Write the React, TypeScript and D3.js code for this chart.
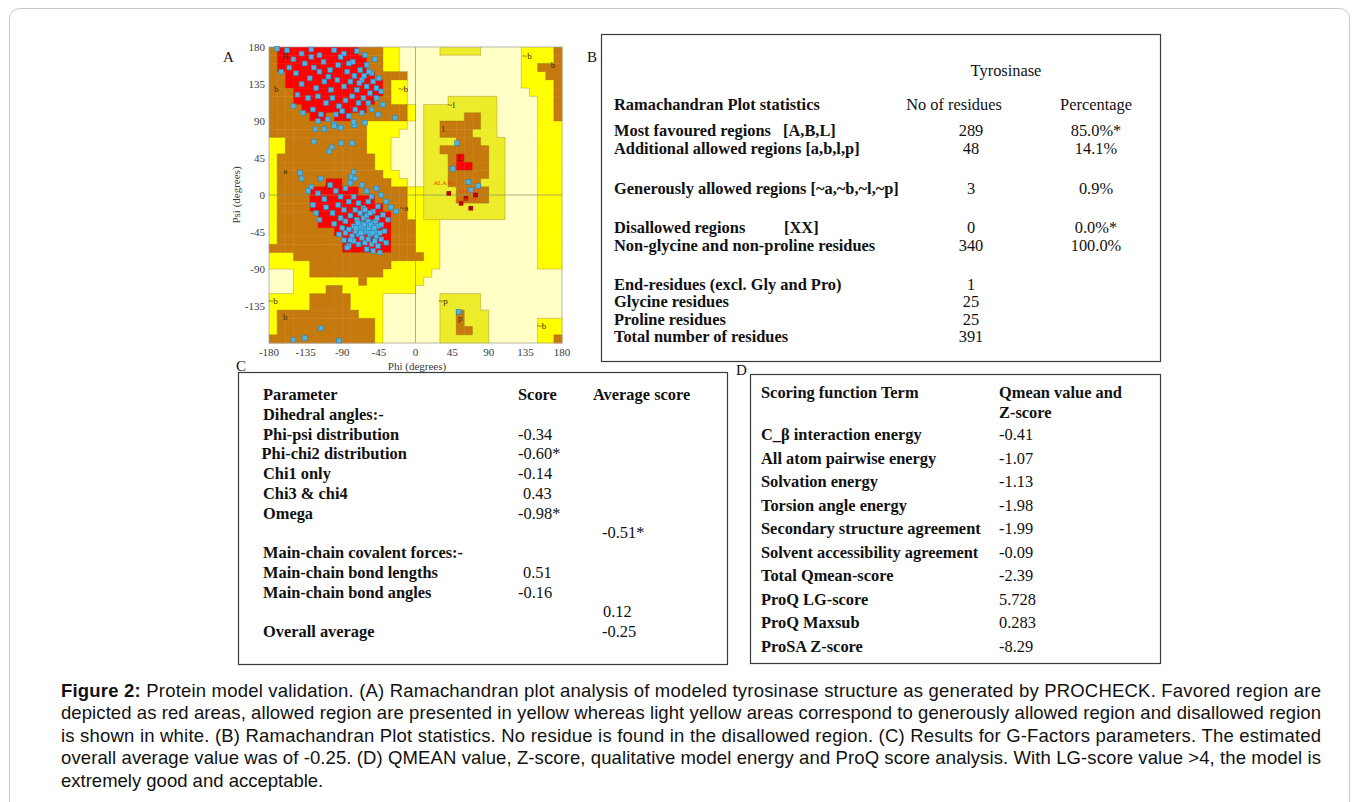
import React from 'react';
import * as d3 from 'd3';

// ---------- Ramachandran region map (10° cells, rows psi 180 -> -180, cols phi -180 -> 180)
// R = most favoured, B = additional allowed, Y/G = generously allowed, W = disallowed
const REGION_ROWS: string[] = [
  'BRRRRRRRRRRBBBYYWWWWWGGGGGWWWWWYYYYB',
  'BRRRRRRRRRRRBBYYWWWWWWWWWWWWWWWYYYYB',
  'BRRRRRRRRRRRBBYYWWWWWWWWWWWWWWWYYBBB',
  'BBRRRRRRRRRRRBBBBWWWWWWWWWWWWWWYYYBB',
  'BBRRRRRRRRRRRRBYYWWWWWWWWWWWWWWYYYYB',
  'BBBRRRRRRRRRRRBYYWWWWWWWWWWWWWWWYYYB',
  'BBBRRRRRRRRRRBBYYWWWWWGGGGGGWWWWWYYB',
  'BBBBRRRRRRRRBBBBBYWGGGGGGGGGWWWWWYYB',
  'BBBBBRRBRRBBBBBBBYWGGGGGBBGGWWWWWYYB',
  'BBBBBBBBBBBBYYYYYWWGGBBBBBGGWWWWWYYY',
  'BBBBBBBBBBBBYYYYWWWGGBBBBGGGWWWWWYYY',
  'YYBBBBBBBBBBYYYWWWWGGGGBBBGGGWWWWYYY',
  'YYBBBBBBBBBBYYYWWWWGGBBBBBBGGWWWWYYY',
  'YBBBBBBBBBBBBYYWWWWGGGBRBBBGGWWWWYYY',
  'YBBBBBBBBBBBBYYWWWWGGGBRRBBGGWWWWYYY',
  'YBBBBBBBBBBBBBYYWWWGGGBBBBBGGWWWWYYY',
  'YBBBBBBRRBBBBBBYYWWGGGBBBBGGGWWWWYYY',
  'YBBBBRRRRRRBBBBBBYYGGGGBBBBGGWWWWYYY',
  'YBBBBRRRRRRRRBBBBYYGGGGBBBBGGWWWWYYY',
  'YBBBBRRRRRRRRRBBBYYGGGGGGGGGGWWWWYYY',
  'YBBBBBRRRRRRRRRBBYYGGGGGGGGGGWWWWYYY',
  'YBBBBBRRRRRRRRRBBBYYYWWWWWWWWWWWWYYY',
  'YBBBBBBBRRRRRRRBBBYYYWWWWWWWWWWWWYYY',
  'YBBBBBBBBRRRRRRBBBYYYWWWWWWWWWWWWYYY',
  'BBBBBBBBBRRRRRRBBBYYYWWWWWWWWWWWWYYY',
  'YYYBBBBBBBBBBBBBBBBYYWWWWWWWWWWWWYYY',
  'YYYYYBBBBBBBBBBYYYYYYWWWWWWWWWWWWYYY',
  'WWWYYBBBBBBBBBYYYYYYWWWWWWWWWWWWWWWW',
  'WWWYYYYYYYYBYYYYYYYWWWWWWWWWWWWWWWWW',
  'WWWYYYYBBYYYYYYYYYWWWWWWWWWWWWWWWWWW',
  'YYYYYBBBBBYYYYWWWWWWWGGGGGWWWWWWWWWW',
  'YYYYYBBBBBYYYYWWWWWWWGGGGGWWWWWWWWWW',
  'YBBBBBBBBBBYYYWWWWWWWGGBGGGWWWWWWWWW',
  'YBBBBBBBBBBBBYWWWWWWWGGBGGGWWWWWWYYY',
  'YBBBBBBBBBBBBYWWWWWWWGGBBGGWWWWWWYYY',
  'BBBBBBBBBBBBBYWWWWWWWGGGGGGWWWWWWYYB',
];

const REGION_COLORS: Record<string, string> = {
  R: '#fe0000',
  B: '#c6790c',
  Y: '#ffff00',
  G: '#ecec28',
  W: '#ffffc6',
};

const PHI_TICKS = [-180, -135, -90, -45, 0, 45, 90, 135, 180];
const PSI_TICKS = [180, 135, 90, 45, 0, -45, -90, -135];

// residues (phi, psi)
const BETA_RESIDUES: [number, number][] = [
  [-170, 178], [-158, 176], [-150, 165], [-140, 172], [-128, 177], [-118, 170], [-100, 176], [-88, 172], [-72, 175], [-62, 170],
  [-165, 150], [-155, 155], [-147, 148], [-136, 160], [-125, 155], [-113, 162], [-105, 152], [-95, 158], [-84, 150], [-77, 162],
  [-68, 152], [-60, 158], [-54, 148], [-50, 165], [-140, 135], [-130, 142], [-122, 130], [-112, 138], [-104, 128], [-96, 140],
  [-88, 132], [-80, 138], [-72, 128], [-66, 140], [-60, 132], [-56, 124], [-52, 138], [-48, 130], [-45, 142], [-58, 112],
  [-64, 118], [-70, 112], [-78, 120], [-86, 115], [-94, 108], [-102, 118], [-110, 112], [-120, 120], [-132, 118], [-145, 122],
  [-150, 108], [-138, 100], [-126, 104], [-116, 98], [-108, 92], [-98, 98], [-90, 102], [-82, 96], [-74, 104], [-66, 100],
  [-54, 104], [-48, 118], [-42, 126], [-40, 110], [-46, 98], [-62, 88], [-75, 85], [-92, 82], [-100, 86], [-112, 80],
  [-120, 90], [-57, 150], [-63, 145], [-69, 136], [-75, 145], [-82, 160], [-92, 168], [-107, 144], [-118, 150], [-128, 168],
];

const BRIDGE_RESIDUES: [number, number][] = [
  [-125, 65], [-103, 58], [-91, 63], [-78, 63], [-106, 53], [-123, 80], [-100, 84], [-76, 89],
  [-142, 27], [-76, 28], [-79, 22], [-25, 94],
];

const ALPHA_RESIDUES: [number, number][] = [
  [-140, 20], [-128, 10], [-120, 2], [-112, -5], [-105, 12], [-98, 5], [-92, -2], [-86, 8], [-80, 15], [-74, 20],
  [-66, 12], [-60, 5], [-54, -2], [-48, 8], [-42, 0], [-36, -8], [-30, -15], [-24, -20], [-110, -15], [-102, -22],
  [-95, -12], [-88, -18], [-82, -8], [-76, -2], [-70, -10], [-64, -16], [-58, -8], [-52, -20], [-46, -14], [-40, -24],
  [-34, -30], [-100, -35], [-92, -28], [-86, -32], [-80, -25], [-76, -38], [-72, -30], [-68, -42], [-66, -35], [-64, -28],
  [-62, -45], [-60, -38], [-58, -32], [-56, -48], [-54, -40], [-52, -34], [-50, -44], [-48, -50], [-46, -38], [-44, -46],
  [-42, -36], [-70, -48], [-74, -44], [-78, -50], [-82, -42], [-86, -46], [-90, -40], [-94, -48], [-66, -52], [-62, -58],
  [-58, -54], [-54, -60], [-50, -56], [-46, -62], [-42, -54], [-38, -44], [-36, -58], [-70, -60], [-76, -56], [-82, -62],
  [-88, -55], [-65, -40], [-63, -36], [-61, -42], [-59, -44], [-57, -40], [-55, -36], [-67, -46], [-69, -38], [-71, -34],
  [-73, -40], [-53, -46], [-51, -40], [-49, -32], [-47, -28], [-60, -25], [-56, -22], [-62, -18], [-68, -22], [-74, -18],
  [-80, -55], [-84, -64], [-60, -66], [-52, -68], [-44, -70], [-118, -30], [-126, -12], [-132, 5], [-116, 20], [-122, -22],
];

const OTHER_RESIDUES: [number, number][] = [
  [51, 63], [46, 32], [65, 16], [77, 11], [68, 6], [53, -142],
  [-150, -176], [-136, -174], [-116, -162], [-94, -177],
];

const GLY_RESIDUES: [number, number][] = [
  [41, 2], [62, -4], [68, -16], [74, 0], [56, -10],
];

const GLY_LABELS: [string, number, number][] = [
  ['ALA 90', 22, 14],
  ['ARG 52', 52, 4],
  ['ASN 77', 49, -7],
];

const REGION_LABELS: [string, number, number][] = [
  ['B', -160, 168], ['b', -171, 128], ['a', -160, 28], ['A', -109, 10],
  ['~b', -15, 128], ['~a', -14, -17], ['~b', 137, 168], ['b', 169, 157],
  ['~l', 44, 108], ['l', 34, 79], ['L', 55, 44], ['~b', -175, -130],
  ['b', -160, -150], ['~p', 34, -130], ['p', 55, -151], ['~b', 155, -160],
];

// ---------- Panel B
const B_LABELS = [
  'Most favoured regions', 'Additional allowed regions [a,b,l,p]', 'Generously allowed regions [~a,~b,~l,~p]',
  'Disallowed regions', 'Non-glycine and non-proline residues', 'End-residues (excl. Gly and Pro)',
  'Glycine residues', 'Proline residues', 'Total number of residues',
];
const B_TAGS = ['[A,B,L]', '', '', '[XX]', '', '', '', '', ''];
const B_COUNTS = ['289', '48', '3', '0', '340', '1', '25', '25', '391'];
const B_PCTS = ['85.0%*', '14.1%', '0.9%', '0.0%*', '100.0%', '', '', '', ''];
const B_ROW_Y = [131, 148.5, 189, 228, 245.5, 284.5, 302, 319.5, 337];

// ---------- Panel C
const C_LABELS = [
  'Dihedral angles:-', 'Phi-psi distribution', 'Phi-chi2 distribution', 'Chi1 only', 'Chi3 & chi4', 'Omega', '',
  'Main-chain covalent forces:-', 'Main-chain bond lengths', 'Main-chain bond angles', '', 'Overall average',
];
const C_SCORES = ['', '-0.34', '-0.60*', '-0.14', '0.43', '-0.98*', '', '', '0.51', '-0.16', '', ''];
const C_AVERAGES = ['', '', '', '', '', '', '-0.51*', '', '', '', '0.12', '-0.25'];

// ---------- Panel D
const D_LABELS = [
  'C_β interaction energy', 'All atom pairwise energy', 'Solvation energy', 'Torsion angle energy',
  'Secondary structure agreement', 'Solvent accessibility agreement', 'Total Qmean-score',
  'ProQ LG-score', 'ProQ Maxsub', 'ProSA Z-score',
];
const D_VALUES = ['-0.41', '-1.07', '-1.13', '-1.98', '-1.99', '-0.09', '-2.39', '5.728', '0.283', '-8.29'];

// ---------- Caption
const CAPTION_LINES = [
  'Protein model validation. (A) Ramachandran plot analysis of modeled tyrosinase structure as generated by PROCHECK. Favored region are',
  'depicted as red areas, allowed region are presented in yellow whereas light yellow areas correspond to generously allowed region and disallowed region',
  'is shown in white. (B) Ramachandran Plot statistics. No residue is found in the disallowed region. (C) Results for G-Factors parameters. The estimated',
  'overall average value was of -0.25. (D) QMEAN value, Z-score, qualitative model energy and ProQ score analysis. With LG-score value >4, the model is',
  'extremely good and acceptable.',
];

const SERIF = "'Liberation Serif', 'Times New Roman', serif";
const SANS = "'Liberation Sans', Arial, sans-serif";
const TABLE_FS = 16.4;

function Ramachandran() {
  const x = d3.scaleLinear().domain([-180, 180]).range([269, 562]);
  const y = d3.scaleLinear().domain([180, -180]).range([47, 343]);
  const cells: JSX.Element[] = [];
  const edges: JSX.Element[] = [];
  REGION_ROWS.forEach((row, r) => {
    for (let c = 0; c < 36; c++) {
      const t = row[c];
      const x0 = x(-180 + 10 * c), x1 = x(-170 + 10 * c);
      const y0 = y(180 - 10 * r), y1 = y(170 - 10 * r);
      cells.push(
        <rect key={`c${r}-${c}`} x={x0} y={y0} width={x1 - x0 + 0.4} height={y1 - y0 + 0.4} fill={REGION_COLORS[t]} />
      );
      if (c < 35 && row[c + 1] !== t) {
        edges.push(<line key={`v${r}-${c}`} x1={x1} x2={x1} y1={y0} y2={y1} />);
      }
      if (r < 35 && REGION_ROWS[r + 1][c] !== t) {
        edges.push(<line key={`h${r}-${c}`} x1={x0} x2={x1} y1={y1} y2={y1} />);
      }
    }
  });
  const pt = (p: [number, number], i: number, k: string) => (
    <rect key={k + i} x={x(p[0]) - 2.4} y={y(p[1]) - 2.4} width={4.8} height={4.8}
      fill="#4fb4e4" stroke="#2a86b8" strokeWidth={0.6} />
  );
  return (
    <g>
      {cells}
      <g stroke="#8a6410" strokeWidth={0.6} strokeOpacity={0.55}>{edges}</g>
      <line x1={x(0)} x2={x(0)} y1={y(180)} y2={y(-180)} stroke="#8c8c6c" strokeWidth={0.7} />
      <line x1={x(-180)} x2={x(180)} y1={y(0)} y2={y(0)} stroke="#8c8c6c" strokeWidth={0.7} />
      <rect x={x(-180)} y={y(180)} width={x(180) - x(-180)} height={y(-180) - y(180)} fill="none" stroke="#9a9a9a" strokeWidth={0.7} />
      {REGION_LABELS.map(([t, a, b], i) => (
        <text key={'rl' + i} x={x(a)} y={y(b)} fontFamily={SERIF} fontSize={9} fill="#3a2a10" textAnchor="middle" dominantBaseline="middle">{t}</text>
      ))}
      {BETA_RESIDUES.map((p, i) => pt(p, i, 'b'))}
      {BRIDGE_RESIDUES.map((p, i) => pt(p, i, 'g'))}
      {ALPHA_RESIDUES.map((p, i) => pt(p, i, 'a'))}
      {OTHER_RESIDUES.map((p, i) => pt(p, i, 'o'))}
      {GLY_RESIDUES.map((p, i) => (
        <rect key={'gy' + i} x={x(p[0]) - 2} y={y(p[1]) - 2} width={4} height={4} fill="#c00000" stroke="#800000" strokeWidth={0.5} />
      ))}
      {GLY_LABELS.map(([t, a, b], i) => (
        <text key={'gl' + i} x={x(a)} y={y(b)} fontFamily={SERIF} fontSize={6.5} fill="#e84a10" dominantBaseline="middle">{t}</text>
      ))}
      {PHI_TICKS.map((t) => (
        <text key={'xt' + t} x={x(t)} y={356} fontFamily={SERIF} fontSize={11} fill="#3a3a3a" textAnchor="middle">{t}</text>
      ))}
      {PSI_TICKS.map((t) => (
        <text key={'yt' + t} x={265} y={y(t) + 4} fontFamily={SERIF} fontSize={11} fill="#3a3a3a" textAnchor="end">{t}</text>
      ))}
      <text x={417} y={370} fontFamily={SERIF} fontSize={11} fill="#3a3a3a" textAnchor="middle">Phi (degrees)</text>
      <text transform={`translate(240,${y(0)}) rotate(-90)`} fontFamily={SERIF} fontSize={11} fill="#3a3a3a" textAnchor="middle">Psi (degrees)</text>
      <text x={223} y={62} fontFamily={SERIF} fontSize={15} fill="#111">A</text>
    </g>
  );
}

function PanelB() {
  const colCount = 971;
  const colPct = 1096;
  return (
    <g fontFamily={SERIF} fontSize={TABLE_FS} fill="#111">
      <text x={587} y={62} fontSize={15}>B</text>
      <rect x={601.5} y={34.5} width={559} height={327} fill="none" stroke="#3a3a3a" strokeWidth={1.2} />
      <text x={1006} y={76} textAnchor="middle">Tyrosinase</text>
      <text x={614} y={110} fontWeight="bold">Ramachandran Plot statistics</text>
      <text x={954} y={110} textAnchor="middle">No of residues</text>
      <text x={colPct} y={110} textAnchor="middle">Percentage</text>
      {B_LABELS.map((l, i) => (
        <g key={'b' + i}>
          <text x={614} y={B_ROW_Y[i] + 5} fontWeight="bold">{l}</text>
          {B_TAGS[i] && <text x={i === 0 ? 783 : 784} y={B_ROW_Y[i] + 5} fontWeight="bold">{B_TAGS[i]}</text>}
          <text x={colCount} y={B_ROW_Y[i] + 5} textAnchor="middle">{B_COUNTS[i]}</text>
          {B_PCTS[i] && <text x={colPct} y={B_ROW_Y[i] + 5} textAnchor="middle">{B_PCTS[i]}</text>}
        </g>
      ))}
    </g>
  );
}

function PanelC() {
  const y0 = 395;
  const dy = 19.75;
  return (
    <g fontFamily={SERIF} fontSize={TABLE_FS} fill="#111">
      <rect x={238.5} y={372.5} width={489} height={292} fill="none" stroke="#3a3a3a" strokeWidth={1.2} />
      <text x={236} y={371} fontSize={15}>C</text>
      <text x={263} y={y0 + 5} fontWeight="bold">Parameter</text>
      <text x={518} y={y0 + 5} fontWeight="bold">Score</text>
      <text x={593} y={y0 + 5} fontWeight="bold">Average score</text>
      {C_LABELS.map((l, i) => {
        const yy = y0 + dy * (i + 1) + 5;
        const s = C_SCORES[i];
        const a = C_AVERAGES[i];
        return (
          <g key={'c' + i}>
            {l && <text x={i === 2 ? 261.5 : 263} y={yy} fontWeight="bold">{l}</text>}
            {s && <text x={s.startsWith('-') ? 518 : 523} y={yy}>{s}</text>}
            {a && <text x={a.startsWith('-') ? 602 : 603} y={yy}>{a}</text>}
          </g>
        );
      })}
    </g>
  );
}

function PanelD() {
  const y0 = 435;
  const dy = 23.5;
  return (
    <g fontFamily={SERIF} fontSize={TABLE_FS} fill="#111">
      <text x={736} y={375} fontSize={15}>D</text>
      <rect x={750.5} y={374.5} width={410} height={289} fill="none" stroke="#3a3a3a" strokeWidth={1.2} />
      <text x={761} y={398} fontWeight="bold">Scoring function Term</text>
      <text x={999} y={398} fontWeight="bold">Qmean value and</text>
      <text x={999} y={418} fontWeight="bold">Z-score</text>
      {D_LABELS.map((l, i) => (
        <g key={'d' + i}>
          <text x={761} y={y0 + dy * i + 5} fontWeight="bold">{l}</text>
          <text x={999} y={y0 + dy * i + 5}>{D_VALUES[i]}</text>
        </g>
      ))}
    </g>
  );
}

function Caption() {
  const x0 = 61;
  const x1 = 1321;
  const by = 697;
  const dy = 22.4;
  return (
    <g fontFamily={SANS} fontSize={18.5} fill="#111">
      {CAPTION_LINES.map((l, i) => {
        const justify = i < CAPTION_LINES.length - 1;
        const props: any = justify ? { textLength: x1 - x0, lengthAdjust: 'spacing' } : {};
        return (
          <text key={'cap' + i} x={x0} y={by + dy * i} {...props}>
            {i === 0 && <tspan fontWeight="bold">Figure 2: </tspan>}
            {l}
          </text>
        );
      })}
    </g>
  );
}

export default function App() {
  return (
    <svg width={1358} height={802} style={{ position: 'absolute', left: 0, top: 0, background: '#fff' }}>
      <rect x={0} y={0} width={1358} height={802} fill="#fff" />
      <rect x={9.5} y={8.5} width={1340} height={900} rx={10} fill="none" stroke="#c8c8c8" strokeWidth={1} />
      <Ramachandran />
      <PanelB />
      <PanelC />
      <PanelD />
      <Caption />
    </svg>
  );
}
